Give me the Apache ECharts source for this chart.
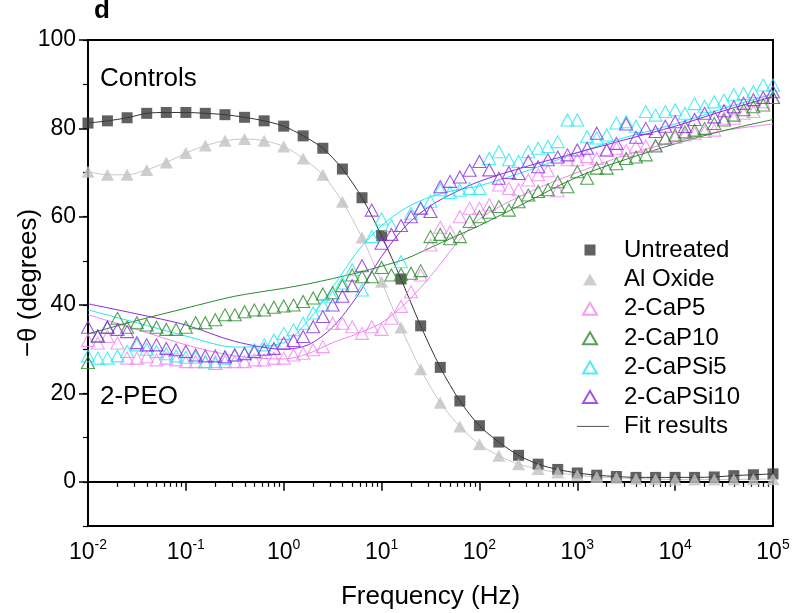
<!DOCTYPE html>
<html>
<head>
<meta charset="utf-8">
<script src="https://cdn.jsdelivr.net/npm/echarts@6/dist/echarts.min.js"></script>
<style>
html,body{margin:0;padding:0;background:#fff;}
#c{width:792px;height:613px;}
</style>
</head>
<body>
<div id="c"></div>
<script>
// ---------- data ----------
var freqCtrl = [0.01,0.0158,0.0251,0.0398,0.0631,0.1,0.158,0.251,0.398,0.631,1,1.58,2.51,3.98,6.31,10,15.8,25.1,39.8,63.1,100,158,251,398,631,1000,1580,2510,3980,6310,10000,15800,25100,39800,63100,100000];
var untreated = [81.2,81.7,82.4,83.4,83.6,83.6,83.4,83.1,82.5,81.7,80.5,78.3,75.5,70.8,64.3,55.7,45.9,35.3,25.9,18.3,12.7,9.0,6.0,4.0,2.8,2.0,1.5,1.2,1.0,1.0,1.0,1.0,1.1,1.4,1.6,1.8];
var alOxide = [70.2,69.5,69.5,70.6,72.3,74.4,76.1,77.2,77.6,77.2,75.9,73.2,69.5,63.4,55.3,45.3,34.9,25.5,17.9,12.5,8.5,5.9,4.0,2.9,2.1,1.5,1.1,0.9,0.7,0.6,0.5,0.5,0.5,0.5,0.6,0.6];

var freqPEO = [0.01,0.0126,0.0158,0.02,0.0251,0.0316,0.0398,0.0501,0.0631,0.0794,
  0.1,0.126,0.158,0.2,0.251,0.316,0.398,0.501,0.631,0.794,
  1,1.26,1.58,2,2.51,3.16,3.98,5.01,6.31,7.94,
  10,12.6,15.8,20,25.1,31.6,39.8,50.1,63.1,79.4,
  100,126,158,200,251,316,398,501,631,794,
  1000,1260,1580,2000,2510,3160,3980,5010,6310,7940,
  10000,12600,15800,20000,25100,31600,39800,50100,63100,79400,100000];
var caP5 = [32,31.4,32.9,31.4,28,28,28.3,27.6,28,27.6,
  27.2,27.2,27.2,27.2,27.2,27.2,27.2,27.6,27.6,28,
  28,28.7,29.1,29.9,30.6,35.9,35.9,35.1,33.6,35.1,
  34.5,37,39.7,43,46.8,53.6,57.6,56.6,60,61.9,
  61.9,62.7,67.2,66.4,66.1,68.3,69.5,70.4,65.9,72.9,
  72.9,73.6,73.2,75.1,75.5,75,75.9,76,76.2,77.7,
  78,78.5,78.9,79.3,79.6,82.3,82.3,83.4,83.8,86,87];
var caP10 = [27,33,35,37,35,36,35.5,35,34.5,34.5,
  35,36,36,36.7,37.8,37.8,38.5,38.9,38.9,39.5,
  39.8,40,40.8,41.6,42.5,42.8,44.4,46.8,46.4,46.4,
  48.5,46.8,47,47.2,47.8,55.5,56,55,55.5,58.9,
  60,61,62.3,61.5,63.4,64.9,65.7,66.1,67.9,66.8,
  70.2,68.7,71,71,72,73.2,73.5,74,76,77.8,
  78.5,79.2,79.6,80,81.1,81.9,83,84.2,84.9,85.3,87];
var caPSi5 = [28.5,28,28,28.5,29.5,31,30,29.5,29,28.5,
  28.2,28.2,27.2,26.8,28,28.7,29.1,29.9,31,32.1,
  33.6,34.4,35.9,38.2,40,41.9,45,48,43.4,55.5,
  59.5,58,49.8,60.8,62,63.5,66.1,65.5,66,66.4,
  66.4,73.2,74.7,72.9,72.5,74.7,75.5,75.9,77,81.9,
  81.9,78.1,77.8,78.5,81.2,81.5,80.5,83.8,83,83.8,
  84.2,83.4,85.6,85,86,86.4,87.6,87.9,88.3,89.8,89.8];
var caPSi10 = [35,33,35,34.5,34,31.5,31,31,30.2,29.9,
  29.5,28.7,28.5,28.5,28.3,28.7,29,29.5,30,30.2,
  31.4,32,32.9,35.1,37.4,40,42,44.4,48.9,61.5,
  54,56,58,60,61.9,61.2,66.8,68,69,70.5,
  72.5,70.6,68.7,70,69.8,72.5,71.3,72.9,73.5,74,
  75.1,75.5,78.9,75.1,76.6,81,78,80,79.3,80.5,
  81.5,80.4,82,83.4,82.6,84,84.9,85.7,86.5,87,88.3];

// fit curves
var freqFit = [0.01,0.0316,0.1,0.316,1,1.78,3.16,5.62,10,17.8,31.6,56.2,100,316,1000,3160,10000,31600,100000];
var fitCaP5   = [37.8,34.5,31,28.5,27.8,29,31.5,33.5,36,40.5,46.5,53.5,59.5,65.5,70,74,77,79.5,81];
var fitCaP10  = [33.5,36.5,39.3,42,43.8,44.8,46,47.3,48.8,50.5,53,55.5,58,63.5,69,73,76.5,79.5,82];
var fitCaPSi5 = [38.9,36,33,30.5,31.5,36.5,44,52,58,62,64.5,66,67,70.5,74.5,78,81,84.5,87.8];
var fitCaPSi10= [40.3,38,35.5,31.8,30,31,35,42,51,58,62.5,65.5,68,71.5,74.5,77.5,80.5,84,87.2];

var xMajor = [0.01,0.1,1,10,100,1000,10000,100000];
var yMajor = [0,20,40,60,80,100];
var legendNames = ['Untreated','Al Oxide','2-CaP5','2-CaP10','2-CaPSi5','2-CaPSi10','Fit results'];

// ---------- chart ----------
var FONT = '"Liberation Sans", Arial, sans-serif';
var C = {u:'#3a3a3a', al:'#c2c2c2', p5:'#f285f2', p10:'#2a8a2a', si5:'#22e8f0', si10:'#8a2be2'};

function zip(xs, ys){ return xs.map(function(x,i){ return [x, ys[i]]; }); }

var xMinor = [];
for (var d = -2; d < 5; d++) { for (var m = 2; m <= 9; m++) { xMinor.push(m * Math.pow(10, d)); } }

function fitLine(name, data, color){
  return {type:'line', name:name, data:data, smooth:0.3, showSymbol:false, symbol:'none',
    lineStyle:{color:color, width:1}, itemStyle:{color:color}, silent:true, z:1};
}
function scat(name, data, sym, size, color, hollow){
  return {type:'scatter', name:name, data:data, symbol:sym, symbolSize:size,
    itemStyle: hollow ? {color:'rgba(255,255,255,0)', borderColor:color, borderWidth:1.1} : {color:color},
    silent:true, z:3};
}

// legend icons: invisible move-to points fix the 32x14 box so shapes keep their size
var ICON_SQ  = 'path://M0,0 M32,14 M7.5,1.5 L18.5,1.5 L18.5,12.5 L7.5,12.5 Z';
var ICON_TRI = 'path://M0,0 M32,14 M13,1 L20,13 L6,13 Z';
var ICON_LN  = 'path://M0,0 M32,14 M0,6.5 L32,6.5 L32,7.5 L0,7.5 Z';

var legendData = legendNames.map(function(n, i){
  var icon = (i === 0) ? ICON_SQ : (i === 6 ? ICON_LN : ICON_TRI);
  return {name:n, icon:icon};
});

var chart = echarts.init(document.getElementById('c'), null, {renderer:'canvas'});
chart.setOption({
  animation:false,
  backgroundColor:'#fff',
  grid:{left:88, right:19, top:40, bottom:87, show:true, borderColor:'#000', borderWidth:2,
        backgroundColor:'transparent', containLabel:false, outerBoundsMode:'none'},
  xAxis:[{
    type:'log', logBase:10, min:0.01, max:100000, gridIndex:0,
    name:'Frequency (Hz)', nameLocation:'middle', nameGap:58, nameMoveOverlap:false,
    nameTextStyle:{fontFamily:FONT, fontSize:26, color:'#000'},
    axisLine:{show:true, lineStyle:{color:'#000', width:2}},
    axisTick:{show:true, length:9, customValues:xMajor, lineStyle:{color:'#000', width:1.5}},
    axisLabel:{show:true, customValues:xMajor, margin:12, hideOverlap:false,
      formatter:function(v){ var e = Math.round(Math.log10(v)); return '{b|10}{s|' + e + '}'; },
      rich:{ b:{fontFamily:FONT, fontSize:23, color:'#000', lineHeight:26, verticalAlign:'bottom'},
             s:{fontFamily:FONT, fontSize:14, color:'#000', lineHeight:14, verticalAlign:'top'} }},
    splitLine:{show:false}
  },{
    type:'log', logBase:10, min:0.01, max:100000, gridIndex:0, position:'bottom',
    axisLine:{show:false},
    axisTick:{show:true, length:5, customValues:xMinor, lineStyle:{color:'#000', width:1.2}},
    axisLabel:{show:false}, splitLine:{show:false}
  }],
  yAxis:[{
    type:'value', min:-10, max:100, interval:10,
    name:'\u2212\u03b8 (degrees)', nameLocation:'middle', nameGap:46, nameMoveOverlap:false,
    nameTextStyle:{fontFamily:FONT, fontSize:26, color:'#000'},
    axisLine:{show:true, lineStyle:{color:'#000', width:2}},
    axisTick:{show:true, length:5, lineStyle:{color:'#000', width:1.2}},
    axisLabel:{margin:12, fontFamily:FONT, fontSize:23, color:'#000', hideOverlap:false,
      formatter:function(v){ return (yMajor.indexOf(v) >= 0) ? String(v) : ''; }},
    splitLine:{show:false}
  },{
    type:'value', min:-10, max:100, position:'left',
    axisLine:{show:false},
    axisTick:{show:true, length:9, customValues:yMajor, lineStyle:{color:'#000', width:1.5}},
    axisLabel:{show:false}, splitLine:{show:false}
  }],
  legend:{
    orient:'vertical', left:571, top:233, itemWidth:32, itemHeight:14, itemGap:5.4,
    selectedMode:false, data:legendData,
    textStyle:{fontFamily:FONT, fontSize:24, color:'#000', lineHeight:24, padding:[0,0,0,10]}
  },
  graphic:[
    {type:'text', left:94, top:-2, style:{text:'d', font:'bold 26px ' + FONT, fill:'#000'}},
    {type:'text', left:100, top:66, style:{text:'Controls', font:'26px ' + FONT, fill:'#000'}},
    {type:'text', left:100, top:384, style:{text:'2-PEO', font:'26px ' + FONT, fill:'#000'}}
  ],
  series:[
    fitLine('fitU', zip(freqCtrl, untreated), '#333'),
    fitLine('fitAl', zip(freqCtrl, alOxide), '#c8c8c8'),
    fitLine('fitP5', zip(freqFit, fitCaP5), C.p5),
    fitLine('fitP10', zip(freqFit, fitCaP10), C.p10),
    fitLine('fitSi5', zip(freqFit, fitCaPSi5), C.si5),
    fitLine('fitSi10', zip(freqFit, fitCaPSi10), C.si10),
    {type:'line', name:'Fit results', data:[], symbol:'none', lineStyle:{color:'#555', width:1}, itemStyle:{color:'#555'}},
    scat('Untreated', zip(freqCtrl, untreated), 'rect', 11, C.u, false),
    scat('Al Oxide', zip(freqCtrl, alOxide), 'triangle', [13,12], C.al, false),
    scat('2-CaP5', zip(freqPEO, caP5), 'triangle', [13,12], C.p5, true),
    scat('2-CaP10', zip(freqPEO, caP10), 'triangle', [13,12], C.p10, true),
    scat('2-CaPSi5', zip(freqPEO, caPSi5), 'triangle', [13,12], C.si5, true),
    scat('2-CaPSi10', zip(freqPEO, caPSi10), 'triangle', [13,12], C.si10, true)
  ]
});
</script>
</body>
</html>
